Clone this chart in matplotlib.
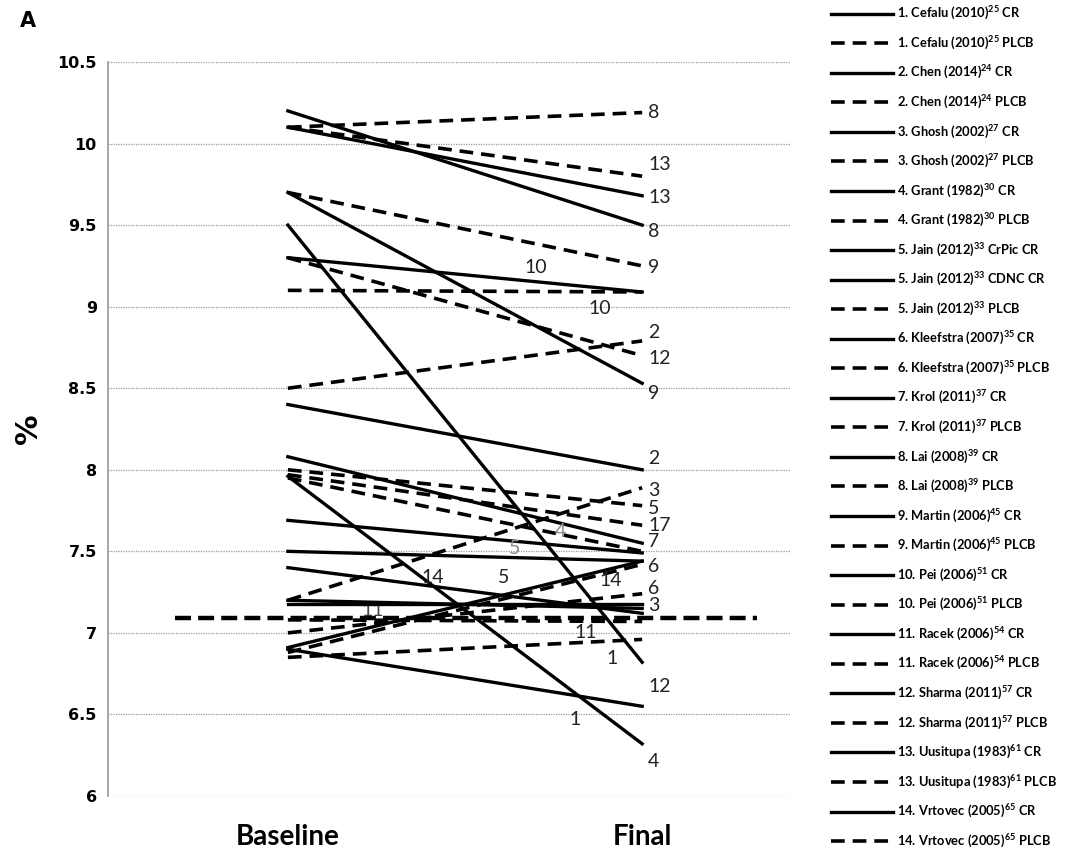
import matplotlib
matplotlib.use("Agg")
import matplotlib.pyplot as plt

plt.rcParams["mathtext.fontset"] = "custom"
plt.rcParams["mathtext.rm"] = "Lato:bold"
plt.rcParams["mathtext.bf"] = "Lato:bold"

# HbA1c (%) at baseline and end of study, CR = chromium, PLCB = placebo
studies = ["1. Cefalu (2010)$^{25}$ CR", "1. Cefalu (2010)$^{25}$ PLCB",
           "2. Chen (2014)$^{24}$ CR", "2. Chen (2014)$^{24}$ PLCB",
           "3. Ghosh (2002)$^{27}$ CR", "3. Ghosh (2002)$^{27}$ PLCB",
           "4. Grant (1982)$^{30}$ CR", "4. Grant (1982)$^{30}$ PLCB",
           "5. Jain (2012)$^{33}$ CrPic CR", "5. Jain (2012)$^{33}$ CDNC CR",
           "5. Jain (2012)$^{33}$ PLCB",
           "6. Kleefstra (2007)$^{35}$ CR", "6. Kleefstra (2007)$^{35}$ PLCB",
           "7. Krol (2011)$^{37}$ CR", "7. Krol (2011)$^{37}$ PLCB",
           "8. Lai (2008)$^{39}$ CR", "8. Lai (2008)$^{39}$ PLCB",
           "9. Martin (2006)$^{45}$ CR", "9. Martin (2006)$^{45}$ PLCB",
           "10. Pei (2006)$^{51}$ CR", "10. Pei (2006)$^{51}$ PLCB",
           "11. Racek (2006)$^{54}$ CR", "11. Racek (2006)$^{54}$ PLCB",
           "12. Sharma (2011)$^{57}$ CR", "12. Sharma (2011)$^{57}$ PLCB",
           "13. Uusitupa (1983)$^{61}$ CR", "13. Uusitupa (1983)$^{61}$ PLCB",
           "14. Vrtovec (2005)$^{65}$ CR", "14. Vrtovec (2005)$^{65}$ PLCB"]
baseline = [6.90, 6.85, 8.40, 8.50, 7.20, 7.20, 7.96, 7.95, 7.69, 7.50, 8.00,
            6.91, 7.00, 8.08, 7.97, 10.20, 10.10, 9.70, 9.70, 9.30, 9.10,
            7.18, 7.08, 9.50, 9.30, 10.10, 10.10, 7.40, 6.88]
final = [6.55, 6.96, 8.00, 8.79, 7.15, 7.89, 6.32, 7.50, 7.49, 7.44, 7.78,
         7.44, 7.24, 7.55, 7.66, 9.50, 10.19, 8.53, 9.25, 9.09, 9.09,
         7.18, 7.07, 6.82, 8.70, 9.68, 9.80, 7.12, 7.42]
timepoints = ["Baseline", "Final"]

# long pooled placebo line drawn across the plot
pooled_x = [-0.32, 1.325]
pooled_y = [7.09, 7.09]

# study numbers next to line ends and along the lines
end_labels = [("8", 10.19), ("13", 9.87), ("13", 9.67), ("8", 9.46), ("9", 9.24),
              ("2", 8.84), ("12", 8.68), ("9", 8.47), ("2", 8.07), ("3", 7.87),
              ("5", 7.76), ("17", 7.66), ("7", 7.56), ("6", 7.41), ("6", 7.27),
              ("3", 7.17), ("12", 6.67), ("4", 6.21)]
mid_labels = [("10", 0.70, 9.24, "#222"), ("10", 0.88, 8.99, "#222"),
              ("4", 0.77, 7.62, "#888"), ("5", 0.64, 7.52, "#888"),
              ("5", 0.61, 7.34, "#222"), ("14", 0.41, 7.34, "#222"),
              ("14", 0.91, 7.32, "#222"), ("11", 0.24, 7.14, "#444"),
              ("11", 0.84, 7.00, "#222"), ("1", 0.915, 6.84, "#222"),
              ("1", 0.81, 6.47, "#222")]

fig = plt.figure(figsize=(10.9, 8.55), dpi=100)
ax = fig.add_axes([0.099, 0.069, 0.626, 0.8585])

handles = []
for name, b, f in zip(studies, baseline, final):
    if name.endswith("PLCB"):
        h, = ax.plot([0, 1], [b, f], color="black", lw=2.6, ls=(0, (3.8, 2.2)),
                     label=name, zorder=3)
    else:
        h, = ax.plot([0, 1], [b, f], color="black", lw=2.4, label=name, zorder=3)
    handles.append(h)

ax.plot(pooled_x, pooled_y, color="black", lw=3.2, ls=(0, (3.6, 1.6)), zorder=3)

for txt, y in end_labels:
    ax.text(1.017, y, txt, fontsize=14, family="Lato", ha="left", va="center",
            color="#222", zorder=4)
for txt, x, y, c in mid_labels:
    ax.text(x, y, txt, fontsize=14, family="Lato", ha="center", va="center",
            color=c, zorder=2 if txt == "11" and x < 0.5 else 4)

ax.set_xlim(-0.508, 1.418)
ax.set_ylim(6, 10.5)
ax.set_yticks([6 + 0.5 * i for i in range(10)])
ax.set_yticklabels([f"{6 + 0.5 * i:g}" for i in range(10)],
                   fontsize=11.5, fontweight="bold")
ax.set_xticks([0, 1])
ax.set_xticklabels(timepoints, fontsize=20, fontweight="bold", family="Lato")
ax.tick_params(axis="both", length=0, pad=8)
ax.tick_params(axis="x", pad=20)
ax.yaxis.grid(True, color="#999", lw=0.9, ls=(0, (1, 1)))
for s in ["top", "right", "bottom"]:
    ax.spines[s].set_visible(False)
ax.spines["left"].set_color("#999")
ax.spines["left"].set_linewidth(1.2)
ax.set_ylabel("%", fontsize=22, fontweight="bold", labelpad=10)

fig.text(0.018, 0.975, "A", fontsize=15, fontweight="bold", va="center")

fig.legend(handles=handles, loc="upper left", bbox_to_anchor=(0.755, 1.003),
           frameon=False, prop={"family": "Lato", "weight": "bold", "size": 9.3},
           handlelength=4.8, handletextpad=0.3, labelspacing=0.96,
           borderaxespad=0.2)

fig.savefig("out.png", dpi=100)
